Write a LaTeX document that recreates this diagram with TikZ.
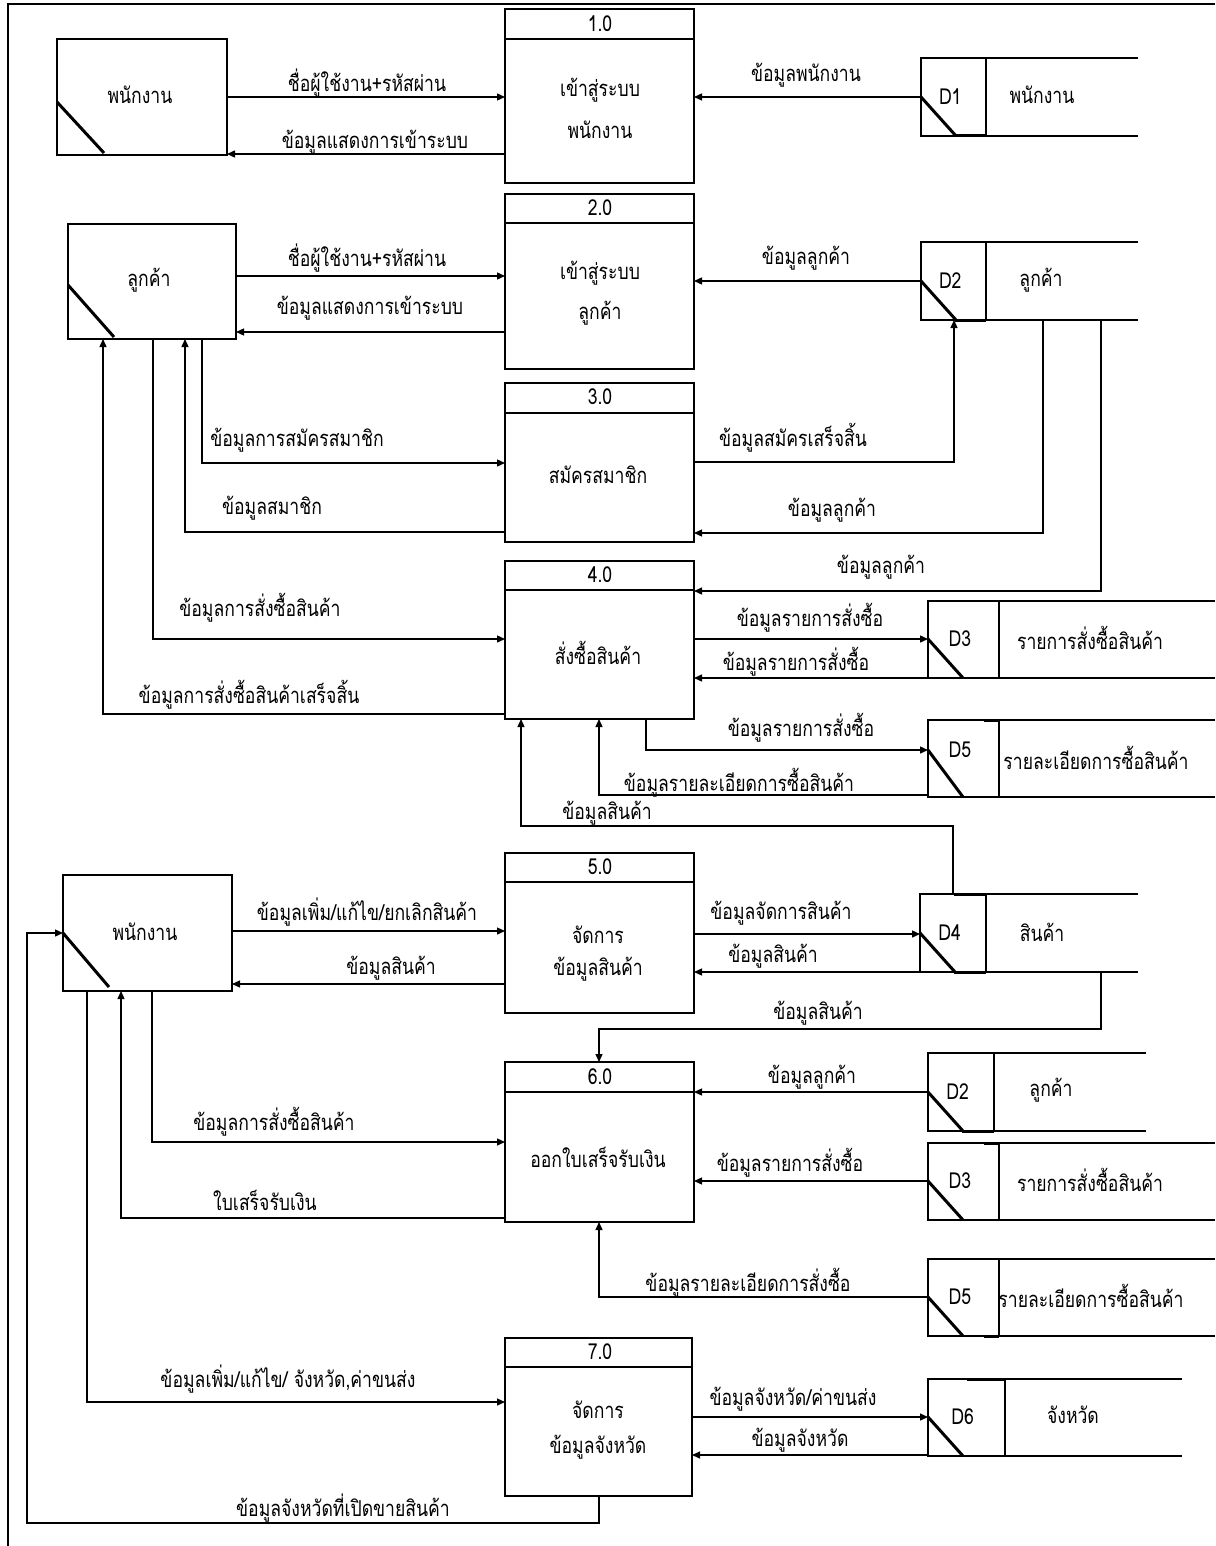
\documentclass[tikz,border=0pt]{standalone}
\usepackage{fontspec}
\setmainfont[Script=Thai,FakeStretch=0.8]{Loma}
\usetikzlibrary{arrows.meta,calc}
\tikzset{
  ln/.style={line width=1.3pt,draw=black},
  thk/.style={line width=3pt,draw=black},
  arr/.style={line width=1.3pt,draw=black,-{Triangle[length=8pt,width=7pt]}},
  txt/.style={font=\fontsize{22}{26}\selectfont,inner sep=0pt},
  lbl/.style={font=\fontsize{22}{26}\selectfont,inner sep=0pt},
  boxx/.style={draw=black,line width=1.3pt,inner sep=0pt,outer sep=0pt,anchor=north west},
}
\newcommand\dstore[8]{%
  \node[inner sep=0pt,outer sep=0pt,minimum width={#6-#2},minimum height={#4-#3},anchor=north west] (#1) at (#2,#3) {};
  \draw[ln] (#6,#3) -- (#2,#3) -- (#2,#4) -- (#6,#4);
  \draw[ln] (#5,#3) -- (#5,#4);
  \draw[thk] (#2,#8) -- ($(#2,#4)+(35,0)$);
  \node[txt] (#1id) at ($(#2,#8)!.45!(#5,#8)$) {#7};
}
\begin{document}
\begin{tikzpicture}[x=1pt,y=-1pt]
\useasboundingbox (0,0) rectangle (1215,1546);
\fill[white] (0,0) rectangle (1215,1546);
% frame
\draw[ln] (1215,4) -- (8,4) -- (8,1546);

% ---------- entities
\node[boxx,minimum width=170,minimum height=116] (e1) at (57,39) {};
\node[txt] (e1t) at (140,95) {พนักงาน};
\draw[thk] (e1.west |- 0,102) -- (104,153);

\node[boxx,minimum width=168,minimum height=115] (e2) at (68,224) {};
\node[txt] (e2t) at (149,280) {ลูกค้า};
\draw[thk] (e2.west |- 0,285) -- (114,337);

\node[boxx,minimum width=169,minimum height=116] (e3) at (63,875) {};
\node[txt] (e3t) at (145,932) {พนักงาน};
\draw[thk] (e3.west |- 0,933) -- (109,987);

% ---------- processes
\node[boxx,minimum width=189,minimum height=174] (p1) at (505,9) {};
\draw[ln] (p1.west |- 0,39) -- (p1.east |- 0,39);
\node[txt] (p1n) at (600,24) {1.0};
\node[txt] (p1a) at (600,90) {เข้าสู่ระบบ};
\node[txt] (p1b) at (600,130) {พนักงาน};

\node[boxx,minimum width=189,minimum height=175] (p2) at (505,194) {};
\draw[ln] (p2.west |- 0,223) -- (p2.east |- 0,223);
\node[txt] (p2n) at (600,208) {2.0};
\node[txt] (p2a) at (600,273) {เข้าสู่ระบบ};
\node[txt] (p2b) at (600,313) {ลูกค้า};

\node[boxx,minimum width=189,minimum height=159] (p3) at (505,383) {};
\draw[ln] (p3.west |- 0,413) -- (p3.east |- 0,413);
\node[txt] (p3n) at (600,397) {3.0};
\node[txt] (p3a) at (598,475) {สมัครสมาชิก};

\node[boxx,minimum width=189,minimum height=158] (p4) at (505,561) {};
\draw[ln] (p4.west |- 0,590) -- (p4.east |- 0,590);
\node[txt] (p4n) at (600,575) {4.0};
\node[txt] (p4a) at (598,653) {สั่งซื้อสินค้า};

\node[boxx,minimum width=189,minimum height=160] (p5) at (505,853) {};
\draw[ln] (p5.west |- 0,882) -- (p5.east |- 0,882);
\node[txt] (p5n) at (600,867) {5.0};
\node[txt] (p5a) at (598,935) {จัดการ};
\node[txt] (p5b) at (598,969) {ข้อมูลสินค้า};

\node[boxx,minimum width=189,minimum height=160] (p6) at (505,1062) {};
\draw[ln] (p6.west |- 0,1092) -- (p6.east |- 0,1092);
\node[txt] (p6n) at (600,1077) {6.0};
\node[txt] (p6a) at (598,1157) {ออกใบเสร็จรับเงิน};

\node[boxx,minimum width=187,minimum height=158] (p7) at (505,1338) {};
\draw[ln] (p7.west |- 0,1367) -- (p7.east |- 0,1367);
\node[txt] (p7n) at (600,1352) {7.0};
\node[txt] (p7a) at (598,1410) {จัดการ};
\node[txt] (p7b) at (598,1447) {ข้อมูลจังหวัด};

% ---------- data stores
\dstore{d1}{921}{58}{136}{986}{1138}{D1}{97}
\draw[thk] (955,136) -- (986,136);
\node[txt] (d1t) at (1042,95) {พนักงาน};

\dstore{d2a}{921}{242}{320}{986}{1138}{D2}{281}
\draw[thk] (955,320) -- (986,320);
\node[txt] (d2at) at (1041,280) {ลูกค้า};

\dstore{d3a}{928}{601}{678}{999}{1215}{D3}{639}
\node[txt] (d3at) at (1090,638) {รายการสั่งซื้อสินค้า};

\dstore{d5a}{928}{720}{797}{999}{1215}{D5}{750}
\draw[thk] (984,720) -- (999,720);
\node[txt] (d5at) at (1096,758) {รายละเอียดการซื้อสินค้า};

\dstore{d4}{920}{894}{972}{986}{1138}{D4}{933}
\draw[thk] (954,972) -- (986,972);
\draw[thk] (954,894) -- (986,894);
\node[txt] (d4t) at (1042,932) {สินค้า};

\dstore{d2b}{928}{1053}{1131}{994}{1146}{D2}{1092}
\draw[thk] (962,1131) -- (994,1131);
\node[txt] (d2bt) at (1051,1090) {ลูกค้า};

\dstore{d3b}{928}{1143}{1220}{999}{1215}{D3}{1181}
\draw[thk] (984,1143) -- (999,1143);
\node[txt] (d3bt) at (1090,1180) {รายการสั่งซื้อสินค้า};

\dstore{d5b}{928}{1259}{1336}{999}{1215}{D5}{1297}
\draw[thk] (984,1336) -- (999,1336);
\node[txt] (d5bt) at (1091,1296) {รายละเอียดการซื้อสินค้า};

\dstore{d6}{928}{1379}{1456}{1005}{1182}{D6}{1417}
\draw[thk] (967,1379) -- (1005,1379);
\node[txt] (d6t) at (1073,1415) {จังหวัด};

% ---------- flows
\draw[arr] (e1.east |- 0,97) -- (p1.west |- 0,97) node[lbl] (f1) at (367,83) {ชื่อผู้ใช้งาน+รหัสผ่าน};
\draw[arr] (p1.west |- 0,154) -- (e1.east |- 0,154) node[lbl] (f2) at (375,142) {ข้อมูลแสดงการเข้าระบบ};
\draw[arr] (d1.west |- 0,97) -- (p1.east |- 0,97) node[lbl] (f3) at (806,75) {ข้อมูลพนักงาน};

\draw[arr] (e2.east |- 0,276) -- (p2.west |- 0,276) node[lbl] (f4) at (367,258) {ชื่อผู้ใช้งาน+รหัสผ่าน};
\draw[arr] (p2.west |- 0,332) -- (e2.east |- 0,332) node[lbl] (f5) at (370,308) {ข้อมูลแสดงการเข้าระบบ};
\draw[arr] (d2a.west |- 0,281) -- (p2.east |- 0,281) node[lbl] (f6) at (806,258) {ข้อมูลลูกค้า};

\draw[arr] (e2.south -| 202,0) |- (p3.west |- 0,463) node[lbl] (f7) at (297,440) {ข้อมูลการสมัครสมาชิก};
\draw[arr] (p3.west |- 0,532) -| (e2.south -| 185,0) node[lbl] (f8) at (272,508) {ข้อมูลสมาชิก};
\draw[arr] (p3.east |- 0,462) -| (d2a.south -| 954,0) node[lbl] (f9) at (793,438) {ข้อมูลสมัครเสร็จสิ้น};
\draw[arr] (d2a.south -| 1043,0) |- (p3.east |- 0,533) node[lbl] (f10) at (832,510) {ข้อมูลลูกค้า};
\draw[arr] (d2a.south -| 1101,0) |- (p4.east |- 0,591) node[lbl] (f11) at (881,567) {ข้อมูลลูกค้า};
\draw[arr] (e2.south -| 153,0) |- (p4.west |- 0,639) node[lbl] (f12) at (260,608) {ข้อมูลการสั่งซื้อสินค้า};
\draw[arr] (p4.west |- 0,714) -| (e2.south -| 103,0) node[lbl] (f13) at (249,695) {ข้อมูลการสั่งซื้อสินค้าเสร็จสิ้น};
\draw[arr] (p4.east |- 0,639) -- (d3a.west |- 0,639) node[lbl] (f14) at (810,618) {ข้อมูลรายการสั่งซื้อ};
\draw[arr] (d3a.west |- 0,678) -- (p4.east |- 0,678) node[lbl] (f15) at (796,662) {ข้อมูลรายการสั่งซื้อ};
\draw[arr] (p4.south -| 646,0) |- (d5a.west |- 0,750) node[lbl] (f16) at (801,728) {ข้อมูลรายการสั่งซื้อ};
\draw[arr] (d5a.west |- 0,795) -| (p4.south -| 599,0) node[lbl] (f17) at (739,783) {ข้อมูลรายละเอียดการซื้อสินค้า};
\draw[arr] (d4.north -| 953,0) -- (953,826) -| (p4.south -| 521,0) node[lbl] (f18) at (607,813) {ข้อมูลสินค้า};

\draw[arr] (e3.east |- 0,931) -- (p5.west |- 0,931) node[lbl] (f19) at (367,912) {ข้อมูลเพิ่ม/แก้ไข/ยกเลิกสินค้า};
\draw[arr] (p5.west |- 0,984) -- (e3.east |- 0,984) node[lbl] (f20) at (391,968) {ข้อมูลสินค้า};
\draw[arr] (p5.east |- 0,934) -- (d4.west |- 0,934) node[lbl] (f21) at (781,913) {ข้อมูลจัดการสินค้า};
\draw[arr] (d4.west |- 0,972) -- (p5.east |- 0,972) node[lbl] (f22) at (773,956) {ข้อมูลสินค้า};
\draw[arr] (d4.south -| 1101,0) -- (1101,1029) -| (p6.north -| 599,0) node[lbl] (f23) at (818,1013) {ข้อมูลสินค้า};

\draw[arr] (d2b.west |- 0,1092) -- (p6.east |- 0,1092) node[lbl] (f24) at (812,1077) {ข้อมูลลูกค้า};
\draw[arr] (e3.south -| 152,0) |- (p6.west |- 0,1142) node[lbl] (f25) at (274,1122) {ข้อมูลการสั่งซื้อสินค้า};
\draw[arr] (p6.west |- 0,1218) -| (e3.south -| 121,0) node[lbl] (f26) at (265,1200) {ใบเสร็จรับเงิน};
\draw[arr] (d3b.west |- 0,1181) -- (p6.east |- 0,1181) node[lbl] (f27) at (790,1163) {ข้อมูลรายการสั่งซื้อ};
\draw[arr] (d5b.west |- 0,1297) -| (p6.south -| 599,0) node[lbl] (f28) at (748,1283) {ข้อมูลรายละเอียดการสั่งซื้อ};

\draw[arr] (e3.south -| 87,0) |- (p7.west |- 0,1402) node[lbl] (f29) at (288,1379) {ข้อมูลเพิ่ม/แก้ไข/ จังหวัด,ค่าขนส่ง};
\draw[arr] (p7.east |- 0,1417) -- (d6.west |- 0,1417) node[lbl] (f30) at (793,1399) {ข้อมูลจังหวัด/ค่าขนส่ง};
\draw[arr] (d6.west |- 0,1455) -- (p7.east |- 0,1455) node[lbl] (f31) at (800,1440) {ข้อมูลจังหวัด};
\draw[arr] (p7.south -| 599,0) -- (599,1523) -| (27,933) -- (e3.west |- 0,933) node[lbl] (f32) at (343,1508) {ข้อมูลจังหวัดที่เปิดขายสินค้า};
\end{tikzpicture}
\end{document}
